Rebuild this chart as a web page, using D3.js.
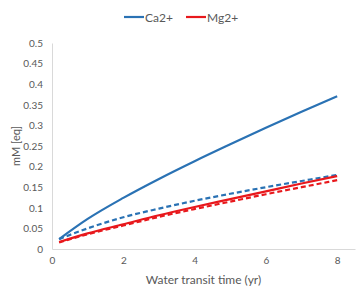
<!DOCTYPE html>
<html>
<head>
<meta charset="utf-8">
<script src="https://cdn.jsdelivr.net/npm/d3@7"></script>
<style>
  body { margin: 0; background: #fff; }
  text { font-family: Lato, "Open Sans", sans-serif; }
</style>
</head>
<body>
<div id="viz"></div>
<script>
// transit time (yr)
var times = [0.2, 1, 2, 3, 4, 5, 6, 7, 8];
var caSolid = [0.024, 0.073, 0.124, 0.170, 0.213, 0.254, 0.294, 0.333, 0.371];
var caDash  = [0.024, 0.050, 0.077, 0.098, 0.117, 0.134, 0.150, 0.165, 0.180];
var mgSolid = [0.017, 0.038, 0.060, 0.082, 0.102, 0.121, 0.140, 0.159, 0.177];
var mgDash  = [0.016, 0.036, 0.057, 0.078, 0.097, 0.115, 0.133, 0.150, 0.167];
var xTicks = [0, 2, 4, 6, 8];
var yTicks = [0, 0.05, 0.1, 0.15, 0.2, 0.25, 0.3, 0.35, 0.4, 0.45, 0.5];

var w = 360, h = 296,
    margin = { top: 43, right: 5, bottom: 47, left: 52 },
    blue = "#2a72b4",
    red = "#e8181c",
    text_color = "#595959";

var svg = d3.select("#viz").append("svg")
    .attr("width", w).attr("height", h);

var x = d3.scaleLinear().domain([0, 8.5]).range([margin.left, w - margin.right]);
var y = d3.scaleLinear().domain([0, 0.5]).range([h - margin.bottom, margin.top]);

/* axes */
var xAxis = d3.axisBottom(x).tickValues(xTicks).tickSize(0).tickPadding(8).tickFormat(d3.format("d"));
var yAxis = d3.axisLeft(y).tickValues(yTicks).tickSize(0).tickPadding(9).tickFormat(function(d) { return d3.format("~g")(d); });

var gx = svg.append("g")
    .attr("transform", "translate(0," + y(0) + ")")
    .call(xAxis);
gx.select(".domain").attr("stroke", "#d9d9d9");
gx.selectAll("text").style("fill", text_color).style("font-size", "10px");

var gy = svg.append("g")
    .attr("transform", "translate(" + x(0) + ",0)")
    .call(yAxis);
gy.select(".domain").attr("stroke", "#d9d9d9");
gy.selectAll("text").style("fill", text_color).style("font-size", "10px");

/* series */
var series = [
  { vals: caSolid, color: blue, dash: null },
  { vals: caDash, color: blue, dash: "5,3" },
  { vals: mgSolid, color: red, dash: null },
  { vals: mgDash, color: red, dash: "5,3" }
];

var line = d3.line()
    .x(function(d, i) { return x(times[i]); })
    .y(function(d) { return y(d); })
    .curve(d3.curveMonotoneX);

svg.selectAll(".series").data(series).enter()
    .append("path")
    .attr("class", "series")
    .attr("d", function(d) { return line(d.vals); })
    .attr("fill", "none")
    .attr("stroke", function(d) { return d.color; })
    .attr("stroke-width", 2.2)
    .attr("stroke-dasharray", function(d) { return d.dash; });

/* legend */
var legend = [
  { name: "Ca2+", color: blue, x: 124 },
  { name: "Mg2+", color: red, x: 186 }
];
var lg = svg.selectAll(".legend").data(legend).enter()
    .append("g").attr("class", "legend");
lg.append("line")
    .attr("x1", function(d) { return d.x; })
    .attr("x2", function(d) { return d.x + 20; })
    .attr("y1", 17).attr("y2", 17)
    .attr("stroke", function(d) { return d.color; })
    .attr("stroke-width", 2.2);
lg.append("text")
    .attr("x", function(d) { return d.x + 21; })
    .attr("y", 21.5)
    .style("fill", text_color)
    .style("font-size", "12px")
    .text(function(d) { return d.name; });

/* titles */
svg.append("text")
    .attr("transform", "translate(20," + ((y(0) + y(0.5)) / 2) + ") rotate(-90)")
    .style("text-anchor", "middle")
    .style("fill", text_color)
    .style("font-size", "11px")
    .text("mM [eq]");

svg.append("text")
    .attr("x", (x(0) + x(8.5)) / 2)
    .attr("y", 284)
    .style("text-anchor", "middle")
    .style("fill", text_color)
    .style("font-size", "12px")
    .text("Water transit time (yr)");
</script>
</body>
</html>
